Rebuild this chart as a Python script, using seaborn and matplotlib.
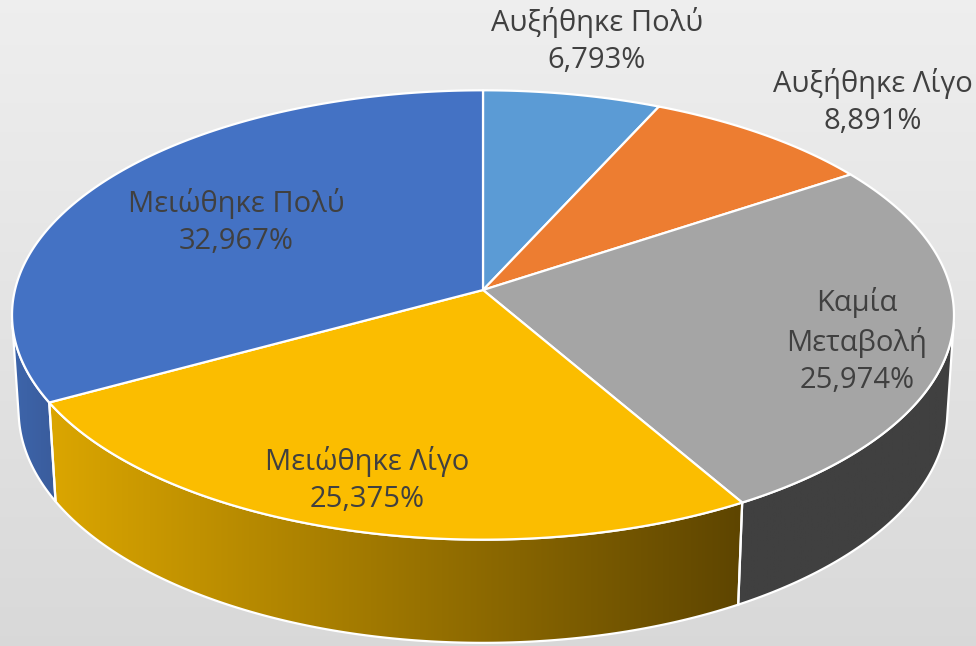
import numpy as np
import matplotlib
matplotlib.use("Agg")
import matplotlib.pyplot as plt
import seaborn as sns
from matplotlib.patches import Polygon

# ---------------- data ----------------
categories = ["Αυξήθηκε Πολύ", "Αυξήθηκε Λίγο", "Καμία Μεταβολή", "Μειώθηκε Λίγο", "Μειώθηκε Πολύ"]
label_lines = ["Αυξήθηκε Πολύ", "Αυξήθηκε Λίγο", "Καμία\nΜεταβολή", "Μειώθηκε Λίγο", "Μειώθηκε Πολύ"]
shares = [6.793, 8.891, 25.974, 25.375, 32.967]

# ---------------- style ----------------
sns.set_theme(style="white")
plt.rcParams["font.family"] = ["Open Sans", "DejaVu Sans"]
top_colors = sns.color_palette(["#5b9bd5", "#ed7d31", "#a5a5a5", "#fbbd00", "#4472c4"])
side_colors = [("#3d6fb0", "#3d6fb0"), ("#b85f22", "#b85f22"), ("#404040", "#404040"),
               ("#dba600", "#5e4500"), ("#3d65ab", "#3a5c9c")]
label_pos = [(597, 41), (873, 102), (857, 341), (367, 480), (236, 222)]
text_color = "#404040"

W, H = 976, 646
fig = plt.figure(figsize=(W / 100, H / 100), dpi=100)
ax = fig.add_axes([0, 0, 1, 1])
ax.set_xlim(0, W)
ax.set_ylim(H, 0)
ax.axis("off")

# background gradient
bg = np.linspace(0.935, 0.85, 200)[:, None] * np.ones((1, 2))
bg_rgb = np.dstack([bg, bg, bg])
ax.imshow(bg_rgb, extent=(0, W, H, 0), aspect="auto", zorder=0)

# ---------------- perspective projection of a disc ----------------
CX, CY = 483.0, 290.0
F, D = 3707.0, 7.92
alpha = np.deg2rad(28.3)
ca, sa = np.cos(alpha), np.sin(alpha)
THICK = 0.2346


def proj(theta, z=0.0):
    X, Y = np.sin(theta), np.cos(theta)
    den = D + Y * ca - z * sa
    return CX + F * X / den, CY - F * (Y * sa + z * ca) / den


fr = np.array(shares) / sum(shares)
edges = np.concatenate([[0], np.cumsum(fr)]) * 2 * np.pi

# visible part of the side wall
vis0 = np.arccos(-1.0 / (D * ca))
vis1 = 2 * np.pi - vis0

for i in range(len(shares)):
    lo, hi = max(edges[i], vis0), min(edges[i + 1], vis1)
    if lo >= hi:
        continue
    t = np.linspace(lo, hi, 200)
    xt, yt = proj(t)
    xb, yb = proj(t[::-1], -THICK)
    pts = np.column_stack([np.concatenate([xt, xb]), np.concatenate([yt, yb])])
    poly = Polygon(pts, closed=True, facecolor="none", edgecolor="white", lw=1.6, zorder=3)
    ax.add_patch(poly)
    c0 = np.array(matplotlib.colors.to_rgb(side_colors[i][0]))
    c1 = np.array(matplotlib.colors.to_rgb(side_colors[i][1]))
    x0, x1 = pts[:, 0].min(), pts[:, 0].max()
    y0, y1 = pts[:, 1].min(), pts[:, 1].max()
    g = np.linspace(0, 1, 256)[None, :, None]
    grad = c0[None, None, :] * (1 - g) + c1[None, None, :] * g
    im = ax.imshow(grad, extent=(x0, x1, y1, y0), aspect="auto", zorder=2)
    clip = Polygon(pts, closed=True, transform=ax.transData)
    im.set_clip_path(clip)

# top face
for i in range(len(shares)):
    t = np.linspace(edges[i], edges[i + 1], 200)
    xt, yt = proj(t)
    pts = np.column_stack([np.concatenate([[CX], xt]), np.concatenate([[CY], yt])])
    ax.add_patch(Polygon(pts, closed=True, facecolor=top_colors[i], edgecolor="white",
                         lw=1.6, joinstyle="round", zorder=4))

# labels
for i in range(len(shares)):
    txt = label_lines[i] + "\n" + f"{shares[i]:.3f}".replace(".", ",") + "%"
    ax.text(label_pos[i][0], label_pos[i][1], txt, ha="center", va="center",
            fontsize=21, color=text_color, linespacing=1.36, zorder=6)

ax.set_xlim(0, W)
ax.set_ylim(H, 0)
fig.savefig("out.png", dpi=100)
